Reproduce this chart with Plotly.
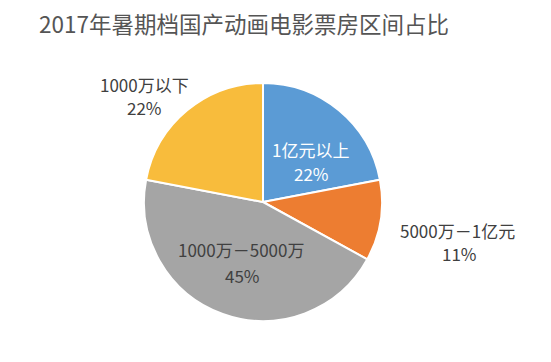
import plotly.graph_objects as go

title = "2017年暑期档国产动画电影票房区间占比"
categories = ["1亿元以上", "5000万－1亿元", "1000万－5000万", "1000万以下"]
shares = [22, 11, 45, 22]
colors = ["#5B9BD5", "#ED7D31", "#A5A5A5", "#F8BC3C"]

W, H = 551, 362
OFF = 8  # page body margin offset
cx, cy, r = 263 - OFF, 202 - OFF, 119

fig = go.Figure(go.Pie(
    labels=categories,
    values=shares,
    sort=False,
    direction="clockwise",
    rotation=0,
    marker=dict(colors=colors, line=dict(color="white", width=2)),
    textinfo="none",
    hoverinfo="label+percent",
    showlegend=False,
    domain=dict(x=[(cx - r) / W, (cx + r) / W], y=[(H - cy - r) / H, (H - cy + r) / H]),
))

# label positions (pixel centers of name line / percent line) and colors
name_pos = [(310, 149), (457, 230), (241, 250), (144, 84)]
pct_pos = [(311, 173), (459, 253), (242, 275), (144, 107)]
label_colors = ["#FFFFFF", "#404040", "#404040", "#404040"]

for cat, val, (nx, ny), (px, py), col in zip(categories, shares, name_pos, pct_pos, label_colors):
    for txt, (x, y) in ((cat, (nx, ny)), (f"{val}%", (px, py))):
        fig.add_annotation(
            x=(x - OFF) / W, y=1 - (y - OFF) / H, xref="paper", yref="paper",
            text=txt, showarrow=False,
            font=dict(size=17, color=col, family="Noto Sans CJK SC"),
            xanchor="center", yanchor="middle",
        )

fig.add_annotation(
    x=(37 - OFF) / W, y=1 - (23 - OFF) / H, xref="paper", yref="paper",
    text=title, showarrow=False, xanchor="left", yanchor="middle",
    font=dict(size=22.5, color="#555555", family="Noto Sans CJK SC"),
)

fig.update_layout(
    width=W, height=H,
    margin=dict(l=0, r=0, t=0, b=0),
    paper_bgcolor="white", plot_bgcolor="white",
    font=dict(family="Noto Sans CJK SC"),
)

fig.write_html("out.html")
